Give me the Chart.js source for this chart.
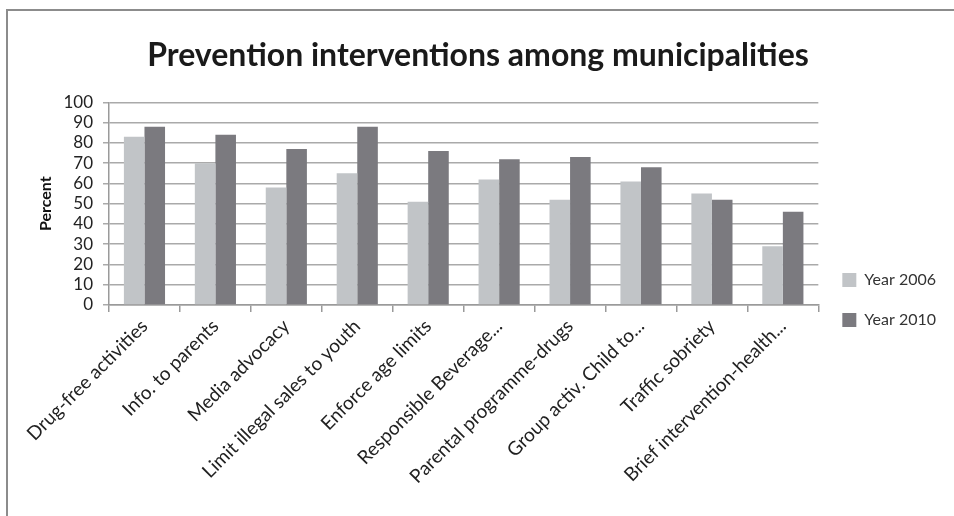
<!DOCTYPE html>
<html>
<head>
<meta charset="utf-8">
<script src="https://cdn.jsdelivr.net/npm/chart.js@4.4.1/dist/chart.umd.min.js"></script>
<style>
  body { margin: 0; background: #fff; }
  #frame { position: absolute; left: 6px; top: 9px; width: 948px; height: 507px;
           border-left: 2px solid #8c8c8c; border-top: 2px solid #8c8c8c; }
  #wrap { position: absolute; left: 0; top: 0; width: 954px; height: 516px; }
</style>
</head>
<body>
<div id="frame"></div>
<div id="wrap"><canvas id="chart" width="954" height="516"></canvas></div>
<script>
const categories = [
  'Drug-free activities', 'Info. to parents', 'Media advocacy',
  'Limit illegal sales to youth', 'Enforce age limits', 'Responsible Beverage...',
  'Parental programme-drugs', 'Group activ. Child to...', 'Traffic sobriety',
  'Brief intervention-health...'
];
const year2006 = [83, 70, 58, 65, 51, 62, 52, 61, 55, 29];
const year2010 = [88, 84, 77, 88, 76, 72, 73, 68, 52, 46];
const yTicks = [0, 10, 20, 30, 40, 50, 60, 70, 80, 90, 100];

const fontFam = "Lato, 'Open Sans', sans-serif";

// move the legend down so it sits around the bottom of the plot, like the original
const legendShift = {
  id: 'legendShift',
  afterLayout(chart) {
    const lg = chart.legend;
    const h = lg.bottom - lg.top;
    lg.top = 300 - h / 2;
    lg.bottom = 300 + h / 2;
  }
};

const ctx = document.getElementById('chart').getContext('2d');
const chart = new Chart(ctx, {
  type: 'bar',
  data: {
    labels: categories,
    datasets: [
      { label: 'Year 2006', data: year2006, backgroundColor: '#c1c4c7' },
      { label: 'Year 2010', data: year2010, backgroundColor: '#7b7a7f' }
    ]
  },
  options: {
    responsive: false,
    animation: false,
    categoryPercentage: 0.58,
    barPercentage: 1.0,
    layout: { padding: { left: 10, top: 10, right: 8, bottom: 6 } },
    plugins: {
      title: {
        display: true,
        text: 'Prevention interventions among municipalities',
        color: '#1a1a1a',
        font: { family: fontFam, size: 32, weight: 'bold' },
        padding: { top: 26, bottom: 28 }
      },
      legend: {
        position: 'right',
        labels: {
          color: '#333',
          font: { family: fontFam, size: 16 },
          boxWidth: 14,
          boxHeight: 14,
          padding: 24
        }
      },
      tooltip: { enabled: false }
    },
    scales: {
      x: {
        grid: { drawOnChartArea: false, drawTicks: true, tickLength: 7, color: '#9a9a9a', lineWidth: 1.5 },
        border: { color: '#9a9a9a', width: 1.5 },
        ticks: {
          color: '#222',
          font: { family: fontFam, size: 19 },
          minRotation: 45,
          maxRotation: 45,
          autoSkip: false
        },
        afterFit: function(scale) { scale.height = 205; }
      },
      y: {
        min: 0,
        max: 100,
        afterBuildTicks: function(scale) { scale.ticks = yTicks.map(v => ({ value: v })); },
        grid: { color: '#aaaaaa', lineWidth: 1.5, tickLength: 6 },
        border: { color: '#9a9a9a', width: 1.5 },
        ticks: {
          color: '#222',
          font: { family: fontFam, size: 17 },
          padding: 10,
          autoSkip: false
        },
        title: {
          display: true,
          text: 'Percent',
          color: '#111',
          font: { family: fontFam, size: 16, weight: 'bold' },
          padding: { top: 26, bottom: 8 }
        },
        afterFit: function(scale) { scale.width = 99; }
      }
    }
  },
  plugins: [legendShift]
});
</script>
</body>
</html>
